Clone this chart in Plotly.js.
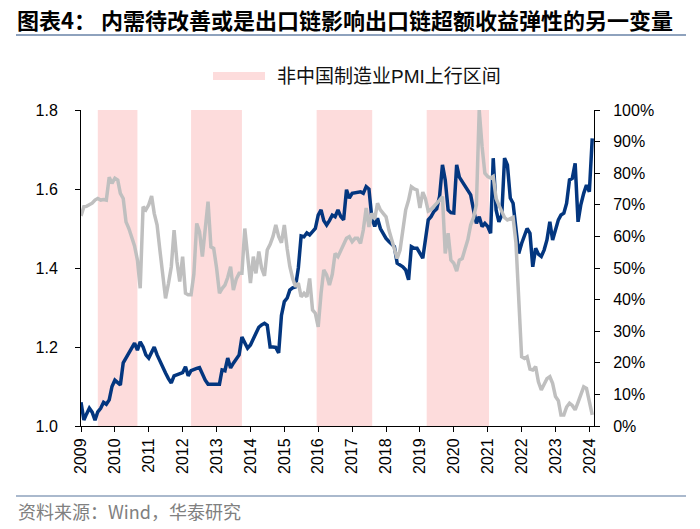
<!DOCTYPE html>
<html>
<head>
<meta charset="utf-8">
<script src="https://cdn.plot.ly/plotly-3.0.1.min.js"></script>
<style>
  html, body { margin: 0; padding: 0; background: #fff; }
  #chart { width: 700px; height: 529px; }
</style>
</head>
<body>
<div id="chart"></div>
<script>
// ---- data (monthly, starting 2009-01) ----
const startYear = 2009;
const startMonth = 1;

// left axis series (navy)
const exportChainRatio = [
  1.06,1.015,1.03,1.045,1.035,1.015,1.036,1.045,1.06,1.055,1.066,1.10,
  1.116,1.11,1.104,1.16,1.172,1.185,1.20,1.21,1.192,1.213,1.20,1.18,
  1.172,1.185,1.20,1.18,1.165,1.145,1.134,1.12,1.109,1.127,1.13,1.132,
  1.135,1.15,1.127,1.14,1.144,1.146,1.148,1.13,1.116,1.106,1.105,1.106,
  1.106,1.106,1.142,1.14,1.172,1.147,1.159,1.17,1.18,1.225,1.21,1.197,
  1.205,1.22,1.235,1.25,1.256,1.26,1.255,1.20,1.20,1.199,1.185,1.28,
  1.315,1.324,1.344,1.35,1.352,1.40,1.481,1.479,1.489,1.484,1.492,1.50,
  1.534,1.547,1.52,1.509,1.52,1.534,1.53,1.547,1.53,1.522,1.598,1.577,
  1.589,1.59,1.593,1.593,1.589,1.606,1.60,1.526,1.505,1.526,1.50,1.488,
  1.475,1.467,1.46,1.454,1.412,1.408,1.403,1.395,1.37,1.454,1.45,1.45,
  1.437,1.425,1.471,1.522,1.53,1.543,1.55,1.581,1.661,1.623,1.547,1.54,
  1.539,1.661,1.63,1.619,1.606,1.595,1.585,1.547,1.513,1.53,1.505,1.513,
  1.505,1.488,1.678,1.547,1.517,1.534,1.678,1.661,1.577,1.564,1.50,1.437,
  1.462,1.48,1.50,1.488,1.403,1.45,1.435,1.429,1.446,1.471,1.517,1.471,
  1.50,1.522,1.534,1.539,1.564,1.623,1.627,1.665,1.517,1.56,1.589,1.61,
  1.593,1.728
];

// right axis series (grey, %)
const grayPct = [
  66.5,69.4,69.5,69.9,70.5,71.5,72.0,71.5,71.7,71.5,78.7,76.8,
  78.4,77.8,73.6,72.0,64.6,62.5,59.9,57.0,52.5,43.6,69.4,68.4,
  70.0,72.8,67.3,63.6,55.7,48.0,40.4,45.0,50.4,62.0,52.0,45.7,
  53.6,42.0,41.5,41.5,48.0,64.1,61.5,53.6,62.0,71.0,56.7,56.2,
  50.0,42.0,43.5,44.6,47.0,50.4,43.0,46.5,48.3,48.3,62.5,53.0,
  45.2,53.6,48.3,55.2,50.0,47.5,55.7,57.5,60.0,63.6,60.0,58.0,
  63.6,56.0,50.5,46.7,44.1,45.2,40.9,42.0,40.9,46.7,36.7,35.7,
  31.4,42.0,49.4,47.8,44.6,48.0,54.6,53.6,55.5,57.8,59.4,59.9,
  58.3,59.4,59.4,57.8,62.0,69.0,63.0,67.3,65.5,70.5,68.4,67.3,
  66.2,62.0,58.9,56.5,53.0,55.7,62.0,68.4,71.5,75.7,75.0,74.7,
  69.0,74.0,72.0,68.0,68.5,69.4,70.5,71.5,72.6,54.6,61.0,52.5,
  51.5,49.0,52.5,53.0,56.0,59.0,63.6,66.0,70.0,100.0,88.4,80.0,
  78.9,78.5,79.0,72.0,69.9,67.8,66.0,65.2,65.5,66.0,58.0,37.0,
  21.9,21.4,21.9,18.0,17.7,18.8,14.0,11.4,13.5,15.0,15.6,13.5,
  9.3,8.0,3.5,3.5,6.0,7.2,6.5,5.1,7.5,10.0,12.4,11.9,
  8.2,3.5
];

// PMI up-cycle shading intervals
const shadeStart = ['2009-07-01','2012-04-01','2015-12-15','2019-03-15'];
const shadeEnd   = ['2010-09-01','2013-10-01','2017-08-05','2021-01-15'];

const leftTicks  = [1.0, 1.2, 1.4, 1.6, 1.8];
const rightTicks = [0,10,20,30,40,50,60,70,80,90,100];
const rightTickText = ['0%','10%','20%','30%','40%','50%','60%','70%','80%','90%','100%'];

const titleText  = '图表4： 内需待改善或是出口链影响出口链超额收益弹性的另一变量';
const legendText = '非中国制造业PMI上行区间';
const sourceText = '资料来源：Wind，华泰研究';

// ---- build ----
function monthDates(n) {
  const out = [];
  for (let i = 0; i < n; i++) {
    const t = (startMonth - 1) + i;
    const y = startYear + Math.floor(t / 12);
    const m = (t % 12) + 1;
    out.push(y + '-' + String(m).padStart(2, '0') + '-01');
  }
  return out;
}
const dates = monthDates(exportChainRatio.length);

const NAVY = '#03367f';
const GREY = '#bfbfbf';
const PINK = '#fddcdc';
const RULE = '#8ea2bd';
const FONT = 'Liberation Sans, Arial, Noto Sans CJK SC, sans-serif';
const CJK  = 'Noto Sans CJK SC, sans-serif';

const traces = [
  { type: 'scatter', mode: 'lines', x: dates, y: grayPct, yaxis: 'y2',
    line: { color: GREY, width: 3.5 }, showlegend: false, hoverinfo: 'skip' },
  { type: 'scatter', mode: 'lines', x: dates, y: exportChainRatio, yaxis: 'y',
    line: { color: NAVY, width: 3.5 }, showlegend: false, hoverinfo: 'skip' }
];

// plot area in pixels: x 81..594, y 110..426
const L = 81, R = 594, T = 110, B = 426;
const px = v => (v - L) / (R - L);
const py = v => (B - v) / (B - T);

const shapes = shadeStart.map((s, i) => ({
  type: 'rect', xref: 'x', yref: 'paper', x0: s, x1: shadeEnd[i], y0: 0, y1: 1,
  fillcolor: PINK, line: { width: 0 }, layer: 'below'
}));
// legend swatch
shapes.push({ type: 'rect', xref: 'paper', yref: 'paper',
  x0: px(213), x1: px(265), y0: py(80), y1: py(72),
  fillcolor: PINK, line: { width: 0 } });
// header rule and footer rule
shapes.push({ type: 'line', xref: 'paper', yref: 'paper',
  x0: px(16), x1: px(686), y0: py(35), y1: py(35), line: { color: RULE, width: 2 } });
shapes.push({ type: 'line', xref: 'paper', yref: 'paper',
  x0: px(16), x1: px(686), y0: py(496), y1: py(496), line: { color: RULE, width: 1.5 } });

const annotations = [
  { xref: 'paper', yref: 'paper', x: px(275), y: py(76), xanchor: 'left', yanchor: 'middle',
    text: legendText, showarrow: false, font: { family: FONT, size: 19, color: '#111' } },
  { xref: 'paper', yref: 'paper', x: px(16), y: py(511), xanchor: 'left', yanchor: 'middle',
    text: sourceText, showarrow: false, font: { family: CJK, size: 18, color: '#808080' } }
];

const layout = {
  width: 700, height: 529,
  margin: { l: L, r: 700 - R, t: T, b: 529 - B, pad: 0 },
  paper_bgcolor: '#ffffff', plot_bgcolor: '#ffffff',
  showlegend: false,
  title: { text: '<b>' + titleText + '</b>', xref: 'container', yref: 'container',
    x: 17 / 700, xanchor: 'left', y: 1 - 21 / 529, yanchor: 'middle',
    font: { family: CJK, size: 22, color: '#000' } },
  xaxis: {
    type: 'date', range: ['2009-01-01', '2024-02-20'],
    tick0: '2009-01-01', dtick: 'M12', tickformat: '%Y', tickangle: -90,
    showgrid: false, zeroline: false, showline: true, linecolor: '#000', linewidth: 1,
    ticks: 'outside', ticklen: 5, tickcolor: '#000', tickwidth: 1,
    tickfont: { family: FONT, size: 16, color: '#000' }, fixedrange: true
  },
  yaxis: {
    range: [1.0, 1.8], tickvals: leftTicks, tickformat: '.1f',
    showgrid: false, zeroline: false, showline: true, linecolor: '#000', linewidth: 1,
    ticks: 'outside', ticklen: 5, tickcolor: '#000', tickwidth: 1, ticklabelstandoff: 14,
    tickfont: { family: FONT, size: 16, color: '#000' }, fixedrange: true
  },
  yaxis2: {
    range: [0, 100], tickmode: 'array', tickvals: rightTicks, ticktext: rightTickText,
    overlaying: 'y', side: 'right',
    showgrid: false, zeroline: false, showline: true, linecolor: '#000', linewidth: 1,
    ticks: 'outside', ticklen: 5, tickcolor: '#000', tickwidth: 1, ticklabelstandoff: 10,
    tickfont: { family: FONT, size: 16, color: '#000' }, fixedrange: true
  },
  shapes: shapes,
  annotations: annotations
};

Plotly.newPlot('chart', traces, layout, { displayModeBar: false, staticPlot: true });
</script>
</body>
</html>
